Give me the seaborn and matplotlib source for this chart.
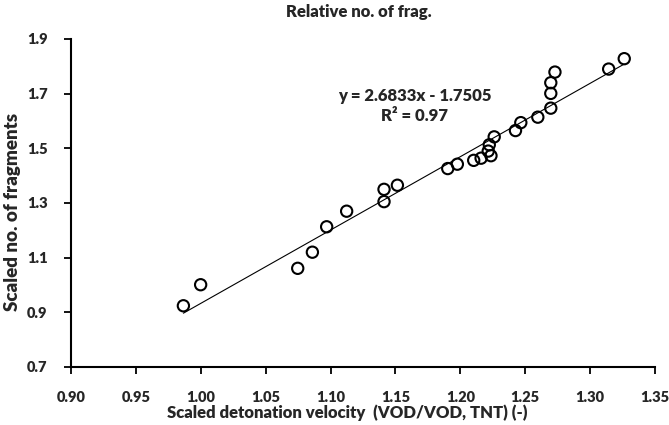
import numpy as np
import pandas as pd
import matplotlib
matplotlib.use("Agg")
import matplotlib.pyplot as plt
import seaborn as sns

# === Data ===
vod_scaled = [0.9866, 0.9999, 1.0747, 1.0860, 1.0970, 1.1124, 1.1412, 1.1412,
              1.1515, 1.1903, 1.1977, 1.2103, 1.2160, 1.2215, 1.2236, 1.2223,
              1.2261, 1.2425, 1.2466, 1.2597, 1.2697, 1.2697, 1.2697, 1.2729,
              1.3143, 1.3263]
frag_scaled = [0.924, 1.001, 1.061, 1.120, 1.213, 1.270, 1.350, 1.305,
               1.365, 1.426, 1.442, 1.456, 1.464, 1.490, 1.473, 1.513,
               1.542, 1.565, 1.594, 1.614, 1.647, 1.701, 1.740, 1.779,
               1.790, 1.828]

slope = 2.6833
intercept = -1.7505
r2 = 0.97

x_ticks = [0.90, 0.95, 1.00, 1.05, 1.10, 1.15, 1.20, 1.25, 1.30, 1.35]
y_ticks = [0.7, 0.9, 1.1, 1.3, 1.5, 1.7, 1.9]

df = pd.DataFrame({"vod": vod_scaled, "frag": frag_scaled})

# === Style ===
sns.set_style("ticks")
plt.rcParams["font.family"] = ["Lato", "DejaVu Sans"]
W = "heavy"

fig = plt.figure(figsize=(6.69, 4.25), dpi=100)
ax = fig.add_axes([71 / 669, 1 - 367 / 425, (655 - 71) / 669, (367 - 39) / 425])

sns.scatterplot(data=df, x="vod", y="frag", ax=ax, s=66, marker="o",
                facecolors="none", edgecolors="black", linewidth=1.5, zorder=3)

# trend line from the fitted equation
xl = np.array([df["vod"].min(), df["vod"].max()])
ax.plot(xl, slope * xl + intercept, color="black", lw=0.8, zorder=2)

ax.set_xlim(x_ticks[0], x_ticks[-1])
ax.set_ylim(y_ticks[0], y_ticks[-1])
ax.set_xticks(x_ticks)
ax.set_yticks(y_ticks)
ax.set_xticklabels([f"{v:.2f}" for v in x_ticks], fontsize=10.5, fontweight=W)
ax.set_yticklabels([f"{v:.1f}" for v in y_ticks], fontsize=10.5, fontweight=W)
ax.tick_params(axis="x", direction="out", length=5, width=1.3, color="black", pad=12)
ax.tick_params(axis="y", direction="out", length=5, width=1.3, color="black", pad=12)
for side in ["left", "bottom"]:
    ax.spines[side].set_linewidth(1.5)
    ax.spines[side].set_color("black")
sns.despine(ax=ax)
ax.set_xlabel("")
ax.set_ylabel("")

eq = f"y = {slope:.4f}x - {abs(intercept):.4f}\nR\u00b2 = {r2:.2f}"
ax.text(1.165, 1.655, eq, ha="center", va="center", fontsize=12,
        fontweight=W, linespacing=1.3)

fig.text(359 / 669, 1 - 12 / 425, "Relative no. of frag.", ha="center",
         va="center", fontsize=12, fontweight=W)
fig.text(347 / 669, 1 - 413 / 425, "Scaled detonation velocity  (VOD/VOD, TNT) (-)",
         ha="center", va="center", fontsize=12, fontweight=W)
fig.text(13 / 669, 1 - 212 / 425, "Scaled no. of fragments", ha="center",
         va="center", rotation=90, fontsize=13.5, fontweight=W)

fig.savefig("out.png", dpi=100)
